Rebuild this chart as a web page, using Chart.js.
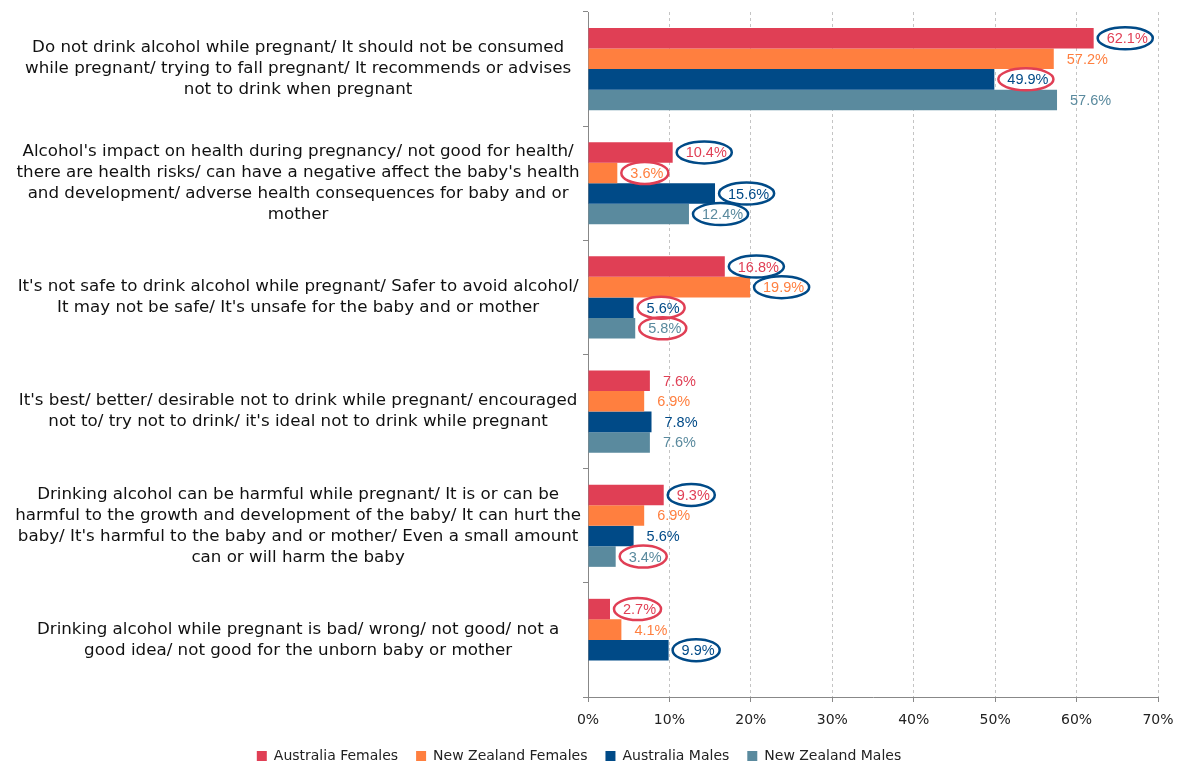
<!DOCTYPE html>
<html>
<head>
<meta charset="utf-8">
<script src="https://cdn.jsdelivr.net/npm/chart.js@4/dist/chart.umd.min.js"></script>
<style>
  html, body { margin: 0; padding: 0; background: #fff; }
  #wrap { width: 1180px; height: 762px; }
</style>
</head>
<body>
<div id="wrap"><canvas id="c"></canvas></div>
<script>
// categories (multi-line labels as in the original)
const categories = [
  ['Do not drink alcohol while pregnant/ It should not be consumed',
   'while pregnant/ trying to fall pregnant/ It recommends or advises',
   'not to drink when pregnant'],
  ["Alcohol's impact on health during pregnancy/ not good for health/",
   "there are health risks/ can have a negative affect the baby's health",
   'and development/ adverse health consequences for baby and or',
   'mother'],
  ["It's not safe to drink alcohol while pregnant/ Safer to avoid alcohol/",
   "It may not be safe/ It's unsafe for the baby and or mother"],
  ["It's best/ better/ desirable not to drink while pregnant/ encouraged",
   "not to/ try not to drink/ it's ideal not to drink while pregnant"],
  ['Drinking alcohol can be harmful while pregnant/ It is or can be',
   'harmful to the growth and development of the baby/ It can hurt the',
   "baby/ It's harmful to the baby and or mother/ Even a small amount",
   'can or will harm the baby'],
  ['Drinking alcohol while pregnant is bad/ wrong/ not good/ not a',
   'good idea/ not good for the unborn baby or mother']
];

const seriesNames = ['Australia Females', 'New Zealand Females', 'Australia Males', 'New Zealand Males'];

const auFemales = [62.1, 10.4, 16.8, 7.6, 9.3, 2.7];
const nzFemales = [57.2, 3.6, 19.9, 6.9, 6.9, 4.1];
const auMales   = [49.9, 15.6, 5.6, 7.8, 5.6, 9.9];
const nzMales   = [57.6, 12.4, 5.8, 7.6, 3.4, null];

// which value labels are ringed in the original: 'r' red ring, 'b' blue ring
const ringAuFemales = ['b', 'b', 'b', null, 'b', 'r'];
const ringNzFemales = [null, 'r', 'b', null, null, null];
const ringAuMales   = ['r', 'b', 'r', null, null, 'b'];
const ringNzMales   = [null, 'b', 'r', null, 'r', null];

const xTicks = [0, 10, 20, 30, 40, 50, 60, 70];

const colors = ['#E03F55', '#FF7F3F', '#004A87', '#5A8A9E'];
const ringColors = { r: '#E03F55', b: '#004A87' };

const values = [auFemales, nzFemales, auMales, nzMales];
const rings = [ringAuFemales, ringNzFemales, ringAuMales, ringNzMales];

const wide = '"DejaVu Sans", Verdana, sans-serif';
const arial = '"Liberation Sans", Arial, sans-serif';

// value labels after the bars, with rings round some of them
const valueLabels = {
  id: 'valueLabels',
  afterDatasetsDraw(chart) {
    const ctx = chart.ctx;
    ctx.save();
    ctx.font = '14.5px ' + arial;
    ctx.textBaseline = 'middle';
    ctx.textAlign = 'left';
    chart.data.datasets.forEach((ds, i) => {
      const meta = chart.getDatasetMeta(i);
      meta.data.forEach((bar, j) => {
        const v = ds.data[j];
        if (v == null) return;
        const txt = v.toFixed(1) + '%';
        const x = bar.x + 13;
        const y = bar.y + 1;
        ctx.fillStyle = colors[i];
        ctx.fillText(txt, x, y);
        const r = rings[i][j];
        if (r) {
          const w = ctx.measureText(txt).width;
          ctx.beginPath();
          ctx.ellipse(x + w / 2 - 2, y - 1, w / 2 + 7, 11, 0, 0, Math.PI * 2);
          ctx.strokeStyle = ringColors[r];
          ctx.lineWidth = 2.5;
          ctx.stroke();
        }
      });
    });
    ctx.restore();
  }
};

new Chart(document.getElementById('c'), {
  type: 'bar',
  data: {
    labels: categories,
    datasets: seriesNames.map((name, i) => ({
      label: name,
      data: values[i],
      backgroundColor: colors[i],
      borderWidth: 0,
      categoryPercentage: 0.72,
      barPercentage: 1.0
    }))
  },
  options: {
    indexAxis: 'y',
    responsive: true,
    maintainAspectRatio: false,
    animation: false,
    layout: { padding: { top: 12, right: 22, bottom: 0, left: 0 } },
    plugins: {
      tooltip: { enabled: false },
      legend: {
        position: 'bottom',
        maxHeight: 31,
        labels: {
          boxWidth: 10,
          boxHeight: 10,
          padding: 18,
          color: '#222',
          font: { family: wide, size: 14 }
        }
      }
    },
    scales: {
      x: {
        min: 0,
        max: 70,
        afterBuildTicks(scale) {
          scale.ticks = xTicks.map(v => ({ value: v }));
        },
        afterFit(scale) {
          scale.height = 34;
          scale.paddingRight = 0;
        },
        ticks: {
          callback: v => v + '%',
          color: '#222',
          padding: 10,
          font: { family: wide, size: 14 }
        },
        grid: {
          color: '#C4C4C4',
          tickBorderDash: [],
          tickColor: '#888',
          tickLength: 5
        },
        border: { display: true, color: '#888', width: 1, dash: [3, 3] }
      },
      y: {
        afterFit(scale) {
          scale.width = 588;
          scale.paddingTop = 0;
          scale.paddingBottom = 0;
        },
        ticks: {
          crossAlign: 'center',
          color: '#111',
          padding: 2,
          font: { family: wide, size: 16.7, lineHeight: 1.26 }
        },
        grid: {
          offset: true,
          drawOnChartArea: false,
          tickLength: 5,
          tickColor: '#888'
        },
        border: { display: true, color: '#888', width: 1 }
      }
    }
  },
  plugins: [valueLabels]
});
</script>
</body>
</html>
